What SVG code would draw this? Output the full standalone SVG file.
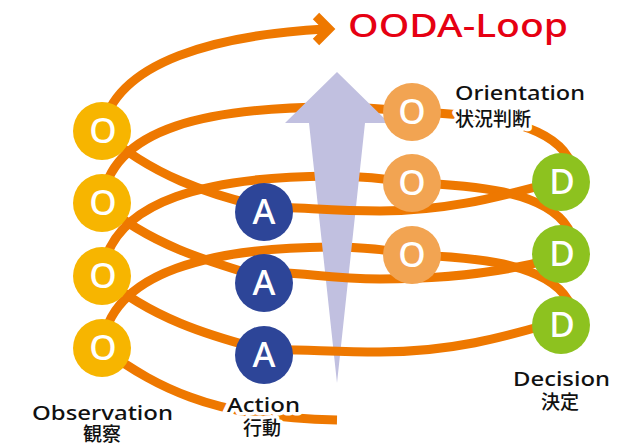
<svg xmlns="http://www.w3.org/2000/svg" width="639" height="446" viewBox="0 0 639 446">
<style>
.ln{fill:none;stroke:#EE7800;stroke-width:9}
.obs{fill:#F7B500}
.ori{fill:#F2A452}
.dec{fill:#8DC21F}
.act{fill:#2D4598}
.nl{font-family:"Noto Sans","Liberation Sans",sans-serif;font-size:35px;font-weight:500;fill:#fff;text-anchor:middle}
.lbl{font-family:"Noto Sans","Noto Sans CJK JP",sans-serif;font-size:20px;font-weight:500;fill:#111;stroke:#fff;stroke-width:7;stroke-linejoin:round;paint-order:stroke}
.cjk{font-family:"Noto Sans CJK JP",sans-serif;font-size:19px}
</style>
<rect width="639" height="446" fill="#fff"/>
<g id="connectors-back">
<path class="ln" d="M102,203 C110,125 215,108 330,107 C370,107 395,110 412,112"/>
<path class="ln" d="M102,276 C110,197 215,177 330,176 C370,176 395,180 412,183"/>
<path class="ln" d="M102,348 C110,270 215,248 330,247 C370,247 395,251 412,255"/>
</g>
<g id="growth-arrow">
<polygon points="337,72 389,123 365,123 337,383 309,123 285,123" fill="#C1C0E0"/>
</g>
<g id="connectors-front">
<path class="ln" d="M102,131 C115,60 220,35 325,29"/>
<polyline class="ln" points="316,16 329,29 316,42" stroke-linejoin="miter"/>
<path class="ln" d="M412,112 C470,114 545,119 568,157 L565,172"/>
<path class="ln" d="M412,183 C470,185 545,190 568,228 L565,243"/>
<path class="ln" d="M412,255 C470,257 545,262 568,300 L565,315"/>
<path class="ln" d="M556,182 C520,190 460,211 380,211 C330,211 300,207 264,207"/>
<path class="ln" d="M556,258 C520,268 460,279 380,279 C330,279 300,272 264,272"/>
<path class="ln" d="M556,322 C520,332 460,352 380,352 C330,352 300,349 264,350"/>
<path class="ln" d="M264,207 C210,195 150,175 102,131"/>
<path class="ln" d="M264,278 C210,262 150,245 102,203"/>
<path class="ln" d="M264,350 C210,336 150,318 102,276"/>
<path class="ln" d="M337,420 C280,419 230,412 190,397 C160,386 135,372 102,348"/>
</g>
<g id="obs1"><circle class="obs" cx="102" cy="131" r="29"/><text class="nl" x="103" y="143">O</text></g>
<g id="obs2"><circle class="obs" cx="102" cy="203" r="29"/><text class="nl" x="103" y="215">O</text></g>
<g id="obs3"><circle class="obs" cx="102" cy="276" r="29"/><text class="nl" x="103" y="288">O</text></g>
<g id="obs4"><circle class="obs" cx="102" cy="348" r="29"/><text class="nl" x="103" y="360">O</text></g>
<g id="act1"><circle class="act" cx="264" cy="212" r="29"/><text class="nl" x="264" y="224">A</text></g>
<g id="act2"><circle class="act" cx="264" cy="283" r="29"/><text class="nl" x="264" y="295">A</text></g>
<g id="act3"><circle class="act" cx="264" cy="355" r="29"/><text class="nl" x="264" y="367">A</text></g>
<g id="ori1"><circle class="ori" cx="412" cy="112" r="29"/><text class="nl" x="412" y="124">O</text></g>
<g id="ori2"><circle class="ori" cx="412" cy="183" r="29"/><text class="nl" x="412" y="195">O</text></g>
<g id="ori3"><circle class="ori" cx="412" cy="255" r="29"/><text class="nl" x="412" y="267">O</text></g>
<g id="dec1"><circle class="dec" cx="561" cy="182" r="29"/><text class="nl" x="562" y="194">D</text></g>
<g id="dec2"><circle class="dec" cx="561" cy="254" r="29"/><text class="nl" x="562" y="266">D</text></g>
<g id="dec3"><circle class="dec" cx="561" cy="325" r="29"/><text class="nl" x="562" y="337">D</text></g>
<g id="labels">
<text class="lbl"><tspan x="455" y="100" textLength="130" lengthAdjust="spacingAndGlyphs">Orientation</tspan><tspan class="cjk" x="455" y="126" font-size="20">状況判断</tspan></text>
<text class="lbl" text-anchor="middle"><tspan x="102.5" y="420" textLength="141" lengthAdjust="spacingAndGlyphs">Observation</tspan><tspan class="cjk" x="102" y="441">観察</tspan></text>
<text class="lbl" text-anchor="middle"><tspan x="263.5" y="412" textLength="73" lengthAdjust="spacingAndGlyphs">Action</tspan><tspan class="cjk" x="262" y="435">行動</tspan></text>
<text class="lbl" text-anchor="middle"><tspan x="561.5" y="386" textLength="97" lengthAdjust="spacingAndGlyphs">Decision</tspan><tspan class="cjk" x="560" y="409">決定</tspan></text>
</g>
<g id="title">
<text x="348" y="37" font-family="'Noto Sans','Liberation Sans',sans-serif" font-size="33" font-weight="500" fill="#E60012" textLength="220" lengthAdjust="spacingAndGlyphs">OODA-Loop</text>
</g>
</svg>
